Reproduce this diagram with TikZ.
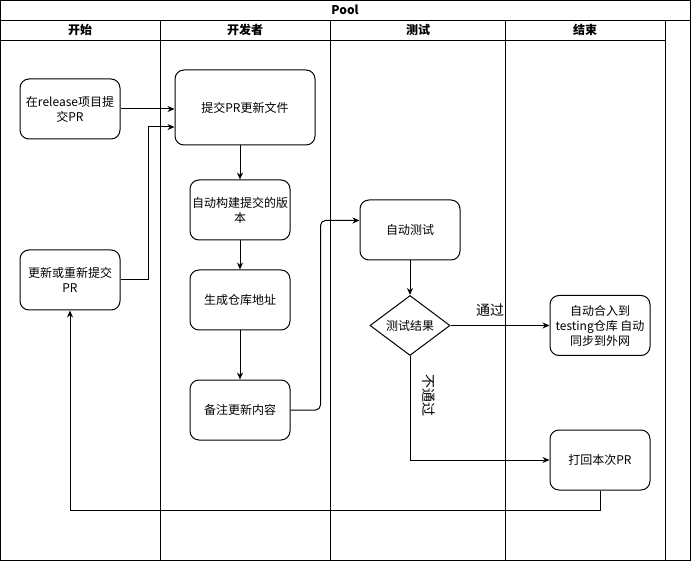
\documentclass[tikz,border=0pt]{standalone}
\usepackage{fontspec}
\setmainfont{Noto Sans CJK SC}
\usetikzlibrary{arrows.meta,shapes.geometric,calc}
\begin{document}
\begin{tikzpicture}[x=1pt,y=-1pt,line width=1pt,
  txt/.style={font=\fontsize{12}{15}\selectfont},
  lbl/.style={font=\fontsize{14}{16}\selectfont,inner sep=0pt},
  hdr/.style={font=\fontsize{12}{15}\selectfont\bfseries},
  box/.style={draw,rounded corners=9pt,minimum width=100pt,minimum height=60pt,align=center,inner sep=0pt,txt},
  dec/.style={draw,diamond,aspect=1.333,minimum width=80pt,minimum height=60pt,inner sep=0pt,txt},
  flow/.style={-{Stealth[length=7pt,width=6pt]}},
  lane/.style={draw,line width=1pt}]
\useasboundingbox (0,0) rectangle (691,561);
% pool frame
\draw[lane] (0.5,0.5) rectangle (690.5,560.5);
\draw[lane] (0,20.5) -- (691,20.5);
\draw[lane] (0,40.5) -- (665.5,40.5);
\foreach \xx in {160.5,330.5,505.5,665.5} \draw[lane] (\xx,20.5) -- (\xx,560.5);
\node[hdr] (pool) at (345,10) {Pool};
\node[hdr] (h1) at (80,30) {开始};
\node[hdr] (h2) at (245,30) {开发者};
\node[hdr] (h3) at (418,30) {测试};
\node[hdr] (h4) at (585,30) {结束};
% nodes
\node[box] (a) at (70,109) {在release项目提\\交PR};
\node[box,minimum width=140pt,minimum height=75pt] (b) at (245,107.5) {提交PR更新文件};
\node[box] (c) at (240,210) {自动构建提交的版\\本};
\node[box] (d) at (240,300) {生成仓库地址};
\node[box] (f) at (240,410) {备注更新内容};
\node[box] (e) at (70,280) {更新或重新提交\\PR};
\node[box] (g) at (410,230) {自动测试};
\node[dec] (h) at (410,325.5) {测试结果};
\node[box] (i) at (600,325.5) {自动合入到\\testing仓库 自动\\同步到外网};
\node[box] (j) at (600,460) {打回本次PR};
% connectors
\draw[flow] (a.east) -- (a.east -| b.west);
\coordinate (k) at (148,127);
\draw[flow] (e.east) -| (k) -- (k -| b.west);
\draw[flow] (b.south -| c.north) -- (c.north);
\draw[flow] (c) -- (d);
\draw[flow] (d) -- (f);
\coordinate (m) at (320.5,220.5);
\draw[flow,rounded corners=5pt] (f.east) -| (m) -- (m -| g.west);
\draw[flow] (g) -- (h);
\draw[flow] (h.east) -- (i.west);
\node[lbl] (pass) at (490,310) {通过};
\draw[flow] (h.south) |- (j.west);
\node[lbl,rotate=-90] (np) at (429,395) {不通过};
\coordinate (r) at (600,510.5);
\draw[flow] (j.south) -- (r) -| (e.south);
\end{tikzpicture}
\end{document}
